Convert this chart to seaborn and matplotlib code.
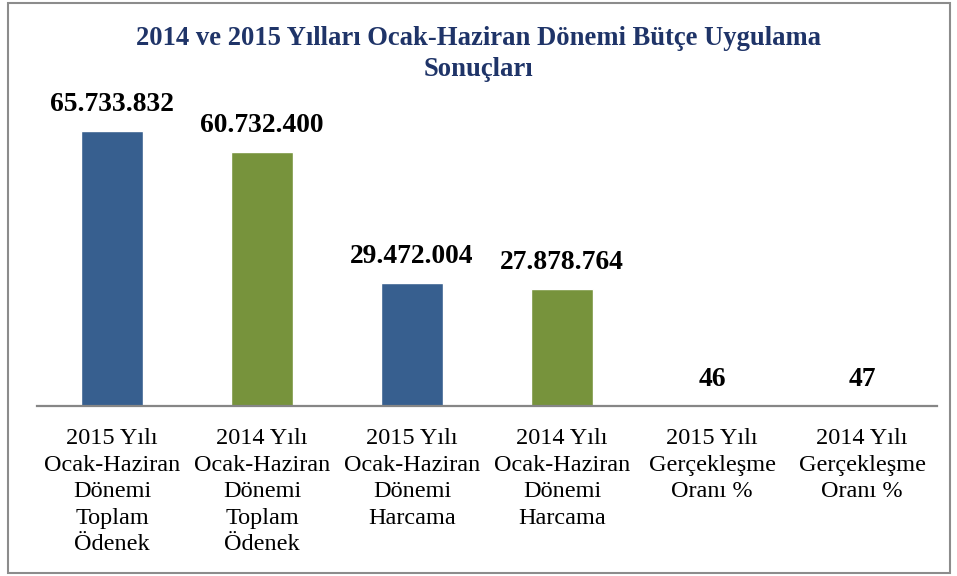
import matplotlib
matplotlib.use("Agg")
import matplotlib.pyplot as plt
import seaborn as sns
import pandas as pd
from matplotlib.patches import Rectangle

categories = [
    "2015 Yılı\nOcak-Haziran\nDönemi\nToplam\nÖdenek",
    "2014 Yılı\nOcak-Haziran\nDönemi\nToplam\nÖdenek",
    "2015 Yılı\nOcak-Haziran\nDönemi\nHarcama",
    "2014 Yılı\nOcak-Haziran\nDönemi\nHarcama",
    "2015 Yılı\nGerçekleşme\nOranı %",
    "2014 Yılı\nGerçekleşme\nOranı %",
]
values = [65733832, 60732400, 29472004, 27878764, 46, 47]
value_labels = ["65.733.832", "60.732.400", "29.472.004", "27.878.764", "46", "47"]
title = "2014 ve 2015 Yılları Ocak-Haziran Dönemi Bütçe Uygulama\nSonuçları"

blue = "#375F8F"
green = "#77933C"
colors = [blue, green, blue, green, blue, green]

sns.set_theme(style="white")
plt.rcParams["font.family"] = ["Liberation Serif", "DejaVu Serif"]

df = pd.DataFrame({"cat": categories, "val": values})

W, H = 957, 576
fig = plt.figure(figsize=(W / 100, H / 100), dpi=100)
ax = fig.add_axes([37 / W, 1 - 406 / H, 900 / W, (406 - 113) / H])

sns.barplot(data=df, x="cat", y="val", hue="cat", palette=colors,
            legend=False, width=0.41, ax=ax, saturation=1)

ax.set_ylim(0, 70000000)
ax.set_xlim(-0.5, 5.5)
ax.set_xlabel("")
ax.set_ylabel("")
ax.set_yticks([])
for s in ["left", "right", "top"]:
    ax.spines[s].set_visible(False)
ax.spines["bottom"].set_color("#868686")
ax.spines["bottom"].set_linewidth(1.6)
ax.tick_params(axis="x", length=0, pad=16)
ax.set_xticks(range(len(categories)))
ax.set_xticklabels(categories, fontsize=17.5, color="black", linespacing=1.34,
                   va="top")

for i, (v, lab) in enumerate(zip(values, value_labels)):
    ax.annotate(lab, (i, v), xytext=(0, 10), textcoords="offset points",
                ha="center", va="bottom", fontsize=19.8, fontweight="bold",
                color="black", annotation_clip=False)

fig.text(0.5, 1 - 54 / H, title, ha="center", va="center", fontsize=19.2,
         fontweight="bold", color="#1F3468", linespacing=1.35)

fig.patches.append(Rectangle((8 / W, 3 / H), (950 - 8) / W, (573 - 3) / H,
                             transform=fig.transFigure, fill=False,
                             edgecolor="#8C8C8C", linewidth=1.5))

fig.savefig("out.png", dpi=100)
